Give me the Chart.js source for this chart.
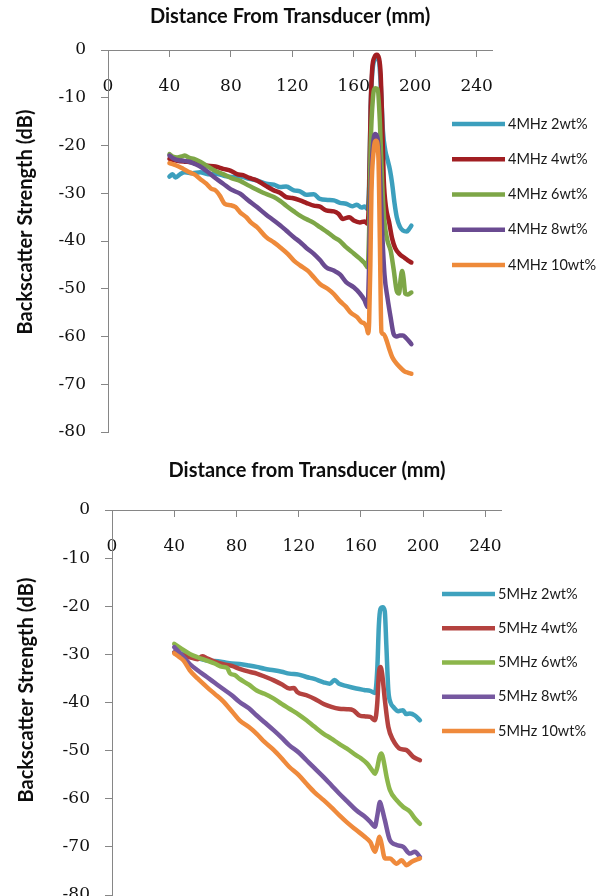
<!DOCTYPE html>
<html>
<head>
<meta charset="utf-8">
<script src="https://cdn.jsdelivr.net/npm/chart.js@4.4.1/dist/chart.umd.min.js"></script>
<style>
  html, body { margin: 0; padding: 0; background: #fff; overflow: hidden; width: 604px; height: 896px; }
  .panel { position: absolute; left: 0; width: 604px; }
  #topPanel { top: 0; height: 448px; }
  #bottomPanel { top: 448px; height: 460px; }
</style>
</head>
<body>
<div class="panel" id="topPanel"><canvas id="topChart" width="604" height="448"></canvas></div>
<div class="panel" id="bottomPanel"><canvas id="bottomChart" width="604" height="460"></canvas></div>
<script>
// [distance mm, backscatter dB]
const labels4 = ['4MHz 2wt%', '4MHz 4wt%', '4MHz 6wt%', '4MHz 8wt%', '4MHz 10wt%'];
const labels5 = ['5MHz 2wt%', '5MHz 4wt%', '5MHz 6wt%', '5MHz 8wt%', '5MHz 10wt%'];
const xTicks = [0, 40, 80, 120, 160, 200, 240];
const yTicks = [0, -10, -20, -30, -40, -50, -60, -70, -80];

const top2wt = [[40,-26.5],[42,-26.0],[44,-26.7],[47,-26.0],[50,-25.6],[55,-25.8],[60,-25.6],[65,-26.0],[70,-25.9],[75,-26.3],[81,-26.6],[86,-26.5],[92,-27.0],[97,-27.3],[103,-28.0],[108,-28.2],[112,-28.7],[116,-28.6],[121,-29.4],[125,-29.6],[129,-30.3],[134,-30.2],[138,-31.2],[143,-31.4],[147,-31.5],[151,-32.0],[155,-32.2],[159,-32.7],[162,-32.4],[165,-33.0],[167,-32.8],[169,-33.3],[170,-28],[171,-12],[172,-5],[173.5,-2],[175,-1.5],[176.5,-2.5],[178,-10],[179,-17],[180.5,-21],[182,-23],[183.5,-25],[185,-28],[186.5,-32],[188,-35],[190,-37],[192,-37.8],[194.5,-38],[196,-37.5],[197.5,-36.8]];
const top4wt = [[40,-22.8],[45,-23.2],[50,-23.4],[54,-23.5],[58,-23.9],[64,-24.2],[70,-24.4],[75,-24.9],[80,-25.3],[84,-26.0],[88,-26.2],[92,-26.8],[96,-27.2],[99,-27.7],[103,-28.5],[108,-29.4],[112,-29.9],[116,-30.8],[120,-31.0],[125,-31.5],[129,-32.0],[134,-32.6],[138,-32.8],[142,-33.6],[147,-33.8],[150,-34.3],[153,-35.4],[157,-35.0],[160,-35.7],[164,-36.1],[167,-35.9],[169,-36.4],[170,-30],[171,-12],[172,-4],[173.5,-1.5],[175,-1.0],[176.5,-1.8],[177.5,-5],[178.5,-15],[179.5,-27],[181,-33],[183,-36],[185,-39.5],[187,-41.5],[190,-42.8],[193,-43.5],[195,-44],[197.5,-44.5]];
const top6wt = [[40,-21.8],[42,-22.3],[45,-22.5],[48,-22.3],[50,-22.1],[53,-22.6],[56,-22.8],[60,-23.4],[64,-24.2],[69,-25.2],[75,-26.0],[80,-26.8],[86,-27.4],[91,-28.3],[96,-29.1],[101,-29.9],[108,-30.8],[112,-31.6],[116,-32.6],[121,-33.8],[125,-34.7],[129,-35.4],[134,-36.2],[138,-37.1],[143,-38.2],[147,-39.2],[151,-40.0],[155,-41.3],[160,-42.6],[164,-43.7],[167,-44.6],[169,-45.5],[170,-38],[171,-20],[172.5,-10],[174,-8],[175.5,-8.2],[177,-15],[178.5,-28],[180,-36],[182,-40],[184,-42],[186,-46],[188,-50.5],[189.5,-51],[190.5,-48],[191.5,-46.3],[192.5,-48],[193.5,-51],[195,-51.2],[197.5,-50.8]];
const top8wt = [[40,-22.1],[43,-22.8],[46,-23.1],[49,-23.2],[53,-23.4],[56,-23.8],[60,-24.4],[64,-25.3],[69,-26.6],[75,-28.0],[80,-29.2],[86,-30.1],[91,-31.4],[97,-32.9],[103,-34.5],[108,-35.7],[112,-36.7],[116,-37.8],[121,-39.2],[125,-40.2],[129,-41.4],[134,-42.7],[138,-44.0],[142,-45.5],[147,-46.2],[151,-47.0],[155,-48.6],[160,-49.7],[164,-51.0],[167,-52.4],[169,-53.8],[170,-45],[171,-30],[172.5,-20],[174,-17.6],[175.5,-18.5],[177,-25],[178.5,-38],[180,-47],[182,-52],[184,-56],[186,-59.5],[188,-60],[190,-59.8],[192,-59.8],[194,-60.3],[196,-61],[197.5,-61.6]];
const top10wt = [[40,-23.7],[43,-24.0],[46,-24.4],[49,-24.9],[53,-25.6],[56,-26.0],[60,-27.0],[64,-28.0],[67,-29.0],[70,-29.4],[73,-30.6],[76,-32.2],[80,-32.5],[83,-32.9],[86,-34.0],[90,-35.0],[93,-36.1],[97,-37.1],[103,-39.2],[108,-40.3],[112,-41.3],[117,-42.7],[121,-44.1],[125,-45.1],[130,-46.2],[134,-47.6],[138,-49.0],[143,-50.0],[147,-51.1],[151,-52.6],[155,-53.8],[158,-55.0],[162,-55.9],[165,-57.0],[167,-57.3],[168.5,-58.2],[169.3,-59.3],[170,-57],[170.8,-45],[171.5,-30],[173,-21],[174.5,-19],[176,-22],[177,-40],[178,-59],[179.5,-59.5],[181,-60.5],[183,-62.5],[185,-64.3],[187.5,-65.5],[190,-66.4],[193,-67.3],[195.5,-67.6],[197.5,-67.8]];

const bot2wt = [[40,-29.6],[45,-29.9],[50,-30.2],[55,-30.8],[61,-31.3],[66,-31.4],[71,-31.6],[77,-31.9],[82,-32.0],[88,-32.3],[93,-32.6],[98,-33.0],[104,-33.3],[109,-33.6],[114,-34.0],[120,-34.2],[125,-34.7],[130,-35.1],[136,-35.8],[140,-36.1],[143,-35.3],[146,-36.1],[151,-36.6],[157,-37.1],[162,-37.4],[166,-37.6],[169,-38.0],[170.5,-33],[171.5,-24],[172.5,-20.6],[174,-20.2],[175.3,-21],[176.3,-28],[177.6,-37.5],[179,-40],[181,-41],[184,-41.8],[187,-41.6],[189,-42.4],[191.5,-42.3],[194.7,-42.7],[197.9,-43.7]];
const bot4wt = [[40,-29.6],[45,-30.1],[50,-30.6],[55,-31.0],[58,-30.4],[61,-30.8],[66,-31.5],[71,-32.0],[77,-32.4],[82,-33.0],[88,-33.6],[93,-34.0],[98,-34.6],[104,-35.4],[109,-36.2],[114,-37.1],[117,-37.0],[119,-37.8],[125,-38.5],[130,-39.2],[136,-40.3],[141,-40.9],[146,-41.3],[151,-41.4],[155,-41.6],[159,-42.7],[163,-42.9],[166,-43.0],[169,-43.7],[170.5,-40],[171.5,-34],[172.6,-32.6],[173.6,-34],[175.4,-39.6],[177.6,-45.1],[180.8,-47.9],[183,-49.0],[185,-49.6],[189.3,-49.9],[193.6,-51.3],[197.9,-52.0]];
const bot6wt = [[40,-27.8],[45,-28.9],[50,-29.9],[55,-30.6],[61,-31.3],[66,-31.9],[71,-32.6],[74,-32.8],[76,-34.0],[79,-34.3],[82,-35.1],[88,-36.3],[93,-37.5],[98,-38.2],[104,-39.2],[109,-40.3],[114,-41.3],[120,-42.5],[125,-43.7],[130,-45.0],[136,-46.5],[141,-47.5],[146,-48.6],[151,-49.6],[157,-51.0],[160,-51.6],[164,-52.7],[167,-54.0],[169,-54.8],[170.5,-53.5],[172,-51.2],[173.3,-50.6],[174.5,-52],[176.5,-55.5],[178.6,-58.2],[182.9,-60.3],[187.2,-61.7],[191.5,-62.7],[194.7,-64.1],[197.9,-65.2]];
const bot8wt = [[40,-28.5],[45,-30.2],[50,-32.0],[55,-33.3],[61,-34.7],[66,-35.9],[71,-37.1],[77,-38.5],[82,-39.9],[88,-41.2],[93,-42.7],[98,-44.1],[104,-45.8],[109,-47.3],[114,-48.9],[120,-50.4],[125,-52.0],[130,-53.6],[136,-55.5],[141,-57.2],[146,-58.9],[151,-60.5],[157,-62.4],[162,-63.6],[166,-64.8],[169,-65.8],[170.5,-63.5],[172.2,-60.7],[173.5,-62],[175.4,-64.5],[178.6,-68.6],[182.9,-69.6],[187.2,-70],[191.5,-71.4],[194.7,-71],[197.9,-72.1]];
const bot10wt = [[40,-29.8],[43,-30.5],[46,-31.3],[50,-33.3],[55,-35.0],[61,-36.8],[66,-38.2],[71,-39.6],[77,-41.8],[82,-43.7],[88,-45.1],[93,-46.5],[98,-48.2],[104,-49.9],[109,-51.6],[114,-53.4],[120,-55.1],[125,-56.9],[130,-58.6],[136,-60.3],[141,-61.8],[146,-63.4],[151,-64.9],[157,-66.5],[162,-67.8],[166,-69.0],[169,-71.0],[170.5,-69.5],[171.8,-67.9],[173,-69],[175.4,-72.4],[178.6,-72.4],[182.9,-73.5],[186.1,-72.8],[189.3,-73.8],[192.6,-73.1],[197.9,-72.4]];

const colors4 = ['#3C9FBD', '#A11E22', '#7DA647', '#6A4B91', '#EE8A3A'];
const colors5 = ['#3FA2BE', '#B4423F', '#8CB64B', '#7658A0', '#EF8A3C'];

const axisGray = '#868686';

function toPoints(pairs) {
    return pairs.map(p => ({ x: p[0], y: p[1] }));
}

function buildDatasets(labels, series, colors) {
    return series.map((s, i) => ({
        label: labels[i],
        data: toPoints(s),
        borderColor: colors[i],
        backgroundColor: colors[i],
        borderWidth: 4.5,
        pointRadius: 0,
        fill: false,
        cubicInterpolationMode: 'monotone',
        borderCapStyle: 'round',
        borderJoinStyle: 'round',
        order: series.length - i   // later series drawn on top, like Excel
    }));
}

// titles and the side legend
const decorPlugin = {
    id: 'decor',
    afterDraw(chart, args, o) {
        const ctx = chart.ctx;
        ctx.save();
        ctx.fillStyle = '#0d0d0d';
        ctx.font = 'bold 20px Lato';
        ctx.textAlign = 'center';
        ctx.textBaseline = 'middle';
        ctx.fillText(o.title, o.titleX, o.titleY);
        ctx.translate(o.yTitleX, o.yTitleY);
        ctx.rotate(-Math.PI / 2);
        ctx.fillText(o.yTitle, 0, 0);
        ctx.restore();

        ctx.save();
        ctx.font = '14.5px Lato';
        ctx.textAlign = 'left';
        ctx.textBaseline = 'middle';
        chart.data.datasets.forEach((ds, i) => {
            const y = o.legendY + i * o.legendStep;
            ctx.strokeStyle = ds.borderColor;
            ctx.lineWidth = 4.5;
            ctx.lineCap = 'butt';
            ctx.beginPath();
            ctx.moveTo(o.legendX, y);
            ctx.lineTo(o.legendX + o.legendLen, y);
            ctx.stroke();
            ctx.fillStyle = '#1a1a1a';
            ctx.fillText(ds.label, o.legendX + o.legendLen + 3, y);
        });
        ctx.restore();
    }
};

function makeChart(id, datasets, g) {
    const tickFont = { family: 'DejaVu Serif', size: 17 };
    return new Chart(document.getElementById(id), {
        type: 'line',
        data: { datasets: datasets },
        options: {
            responsive: false,
            animation: false,
            layout: { padding: { left: 0, top: g.top, right: g.right, bottom: g.bottom } },
            scales: {
                x: {
                    type: 'linear',
                    min: 0,
                    max: 250,
                    position: { y: 0 },
                    afterBuildTicks: s => { s.ticks = xTicks.map(v => ({ value: v })); },
                    ticks: { stepSize: 40, includeBounds: false, padding: 20, color: '#111', font: tickFont, maxRotation: 0, autoSkip: false },
                    grid: { drawOnChartArea: false, tickLength: 6, color: axisGray, tickColor: axisGray },
                    border: { color: axisGray, width: 1 }
                },
                y: {
                    type: 'linear',
                    min: -80,
                    max: 0,
                    afterFit: s => {
                        s.width = g.left;
                        // let layout padding alone decide the plot height
                        s.paddingTop = 0;
                        s.paddingBottom = 0;
                    },
                    afterBuildTicks: s => { s.ticks = yTicks.map(v => ({ value: v })); },
                    ticks: { stepSize: 10, padding: 15, color: '#111', font: tickFont },
                    grid: { drawOnChartArea: false, tickLength: 7, color: axisGray, tickColor: axisGray },
                    border: { color: axisGray, width: 1 }
                }
            },
            plugins: {
                legend: { display: false },
                title: { display: false },
                tooltip: { enabled: false },
                decor: g.decor
            }
        },
        plugins: [decorPlugin]
    });
}

makeChart('topChart', buildDatasets(labels4, [top2wt, top4wt, top6wt, top8wt, top10wt], colors4), {
    left: 108, top: 50, right: 112, bottom: 16,
    decor: {
        title: 'Distance From Transducer (mm)', titleX: 290, titleY: 17,
        yTitle: 'Backscatter Strength (dB)', yTitleX: 26, yTitleY: 222,
        legendX: 452, legendLen: 53, legendY: 124, legendStep: 35.25
    }
});

makeChart('bottomChart', buildDatasets(labels5, [bot2wt, bot4wt, bot6wt, bot8wt, bot10wt], colors5), {
    left: 112, top: 62, right: 103, bottom: 13,
    decor: {
        title: 'Distance from Transducer (mm)', titleX: 307, titleY: 23,
        yTitle: 'Backscatter Strength (dB)', yTitleX: 27, yTitleY: 242,
        legendX: 442, legendLen: 53, legendY: 146, legendStep: 34.25
    }
});
</script>
</body>
</html>
